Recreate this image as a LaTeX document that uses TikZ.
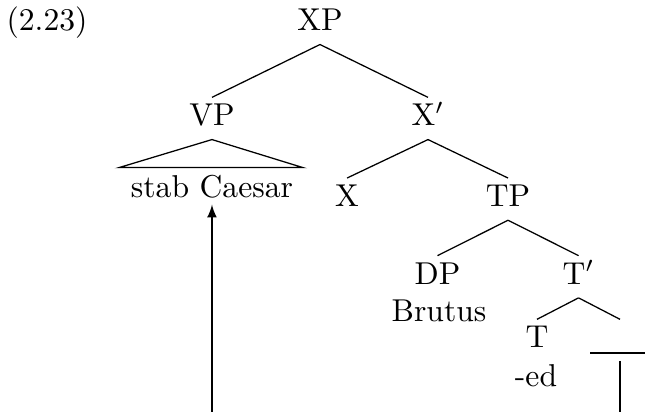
\documentclass[tikz,border=0pt]{standalone}
\usepackage{amsmath}
\usepackage{tikz}
\pgfdeclarelayer{bg}
\pgfsetlayers{bg,main}
\tikzset{
    every node/.style={anchor=base, inner sep=2pt, text height=6.85pt, text depth=2.1pt}
}
\tikzset{leaf/.style={text depth=0pt}}

\begin{document}
\begin{tikzpicture}
    \useasboundingbox (0cm, 0cm) rectangle (7.172cm, 4.581cm);

    \node (num) at (0.523cm, 4.237cm) {(2.23)};

    \node (xp) at (3.558cm, 4.237cm) {XP};
    \node (vp) at (2.357cm, 3.180cm) {VP};
    \node (xbar) at (4.759cm, 3.180cm) {X$'$};
    \node (sc) [leaf] at (2.357cm, 2.383cm) {stab Caesar};
    \node (x) at (3.859cm, 2.283cm) {X};
    \node (tp) at (5.649cm, 2.283cm) {TP};
    \node (dp) at (4.865cm, 1.420cm) {DP};
    \node (brutus) at (4.882cm, 1.004cm) {Brutus};
    \node (tbar) at (6.433cm, 1.420cm) {T$'$};
    \node (t) at (5.971cm, 0.712cm) {T};
    \node (ed) at (5.960cm, 0.281cm) {-ed};
    \node (e) at (6.894cm, 0.712cm) {};

    \coordinate (trl) at (1.323cm, 2.717cm);
    \coordinate (trr) at (3.369cm, 2.717cm);
    \coordinate (hl) at (6.561cm, 0.656cm);
    \coordinate (hr) at (7.172cm, 0.656cm);
    \coordinate (vt) at (6.894cm, 0.567cm);
    \coordinate (vb) at (6.894cm, 0cm);
    \coordinate (ab) at (2.357cm, 0cm);

    \begin{pgfonlayer}{bg}
        \draw (xp.south) -- (vp.north);
        \draw (xp.south) -- (xbar.north);
        \draw (vp.south) -- (trl) -- (trr) -- cycle;
        \draw (xbar.south) -- (x.north);
        \draw (xbar.south) -- (tp.north);
        \draw (tp.south) -- (dp.north);
        \draw (tp.south) -- (tbar.north);
        \draw (tbar.south) -- (t.north);
        \draw (tbar.south) -- (e.north);

        \draw (hl) -- (hr);
        \draw (vt) -- (vb);
        \draw [-latex] (ab) -- (sc.south);
    \end{pgfonlayer}
\end{tikzpicture}
\end{document}
